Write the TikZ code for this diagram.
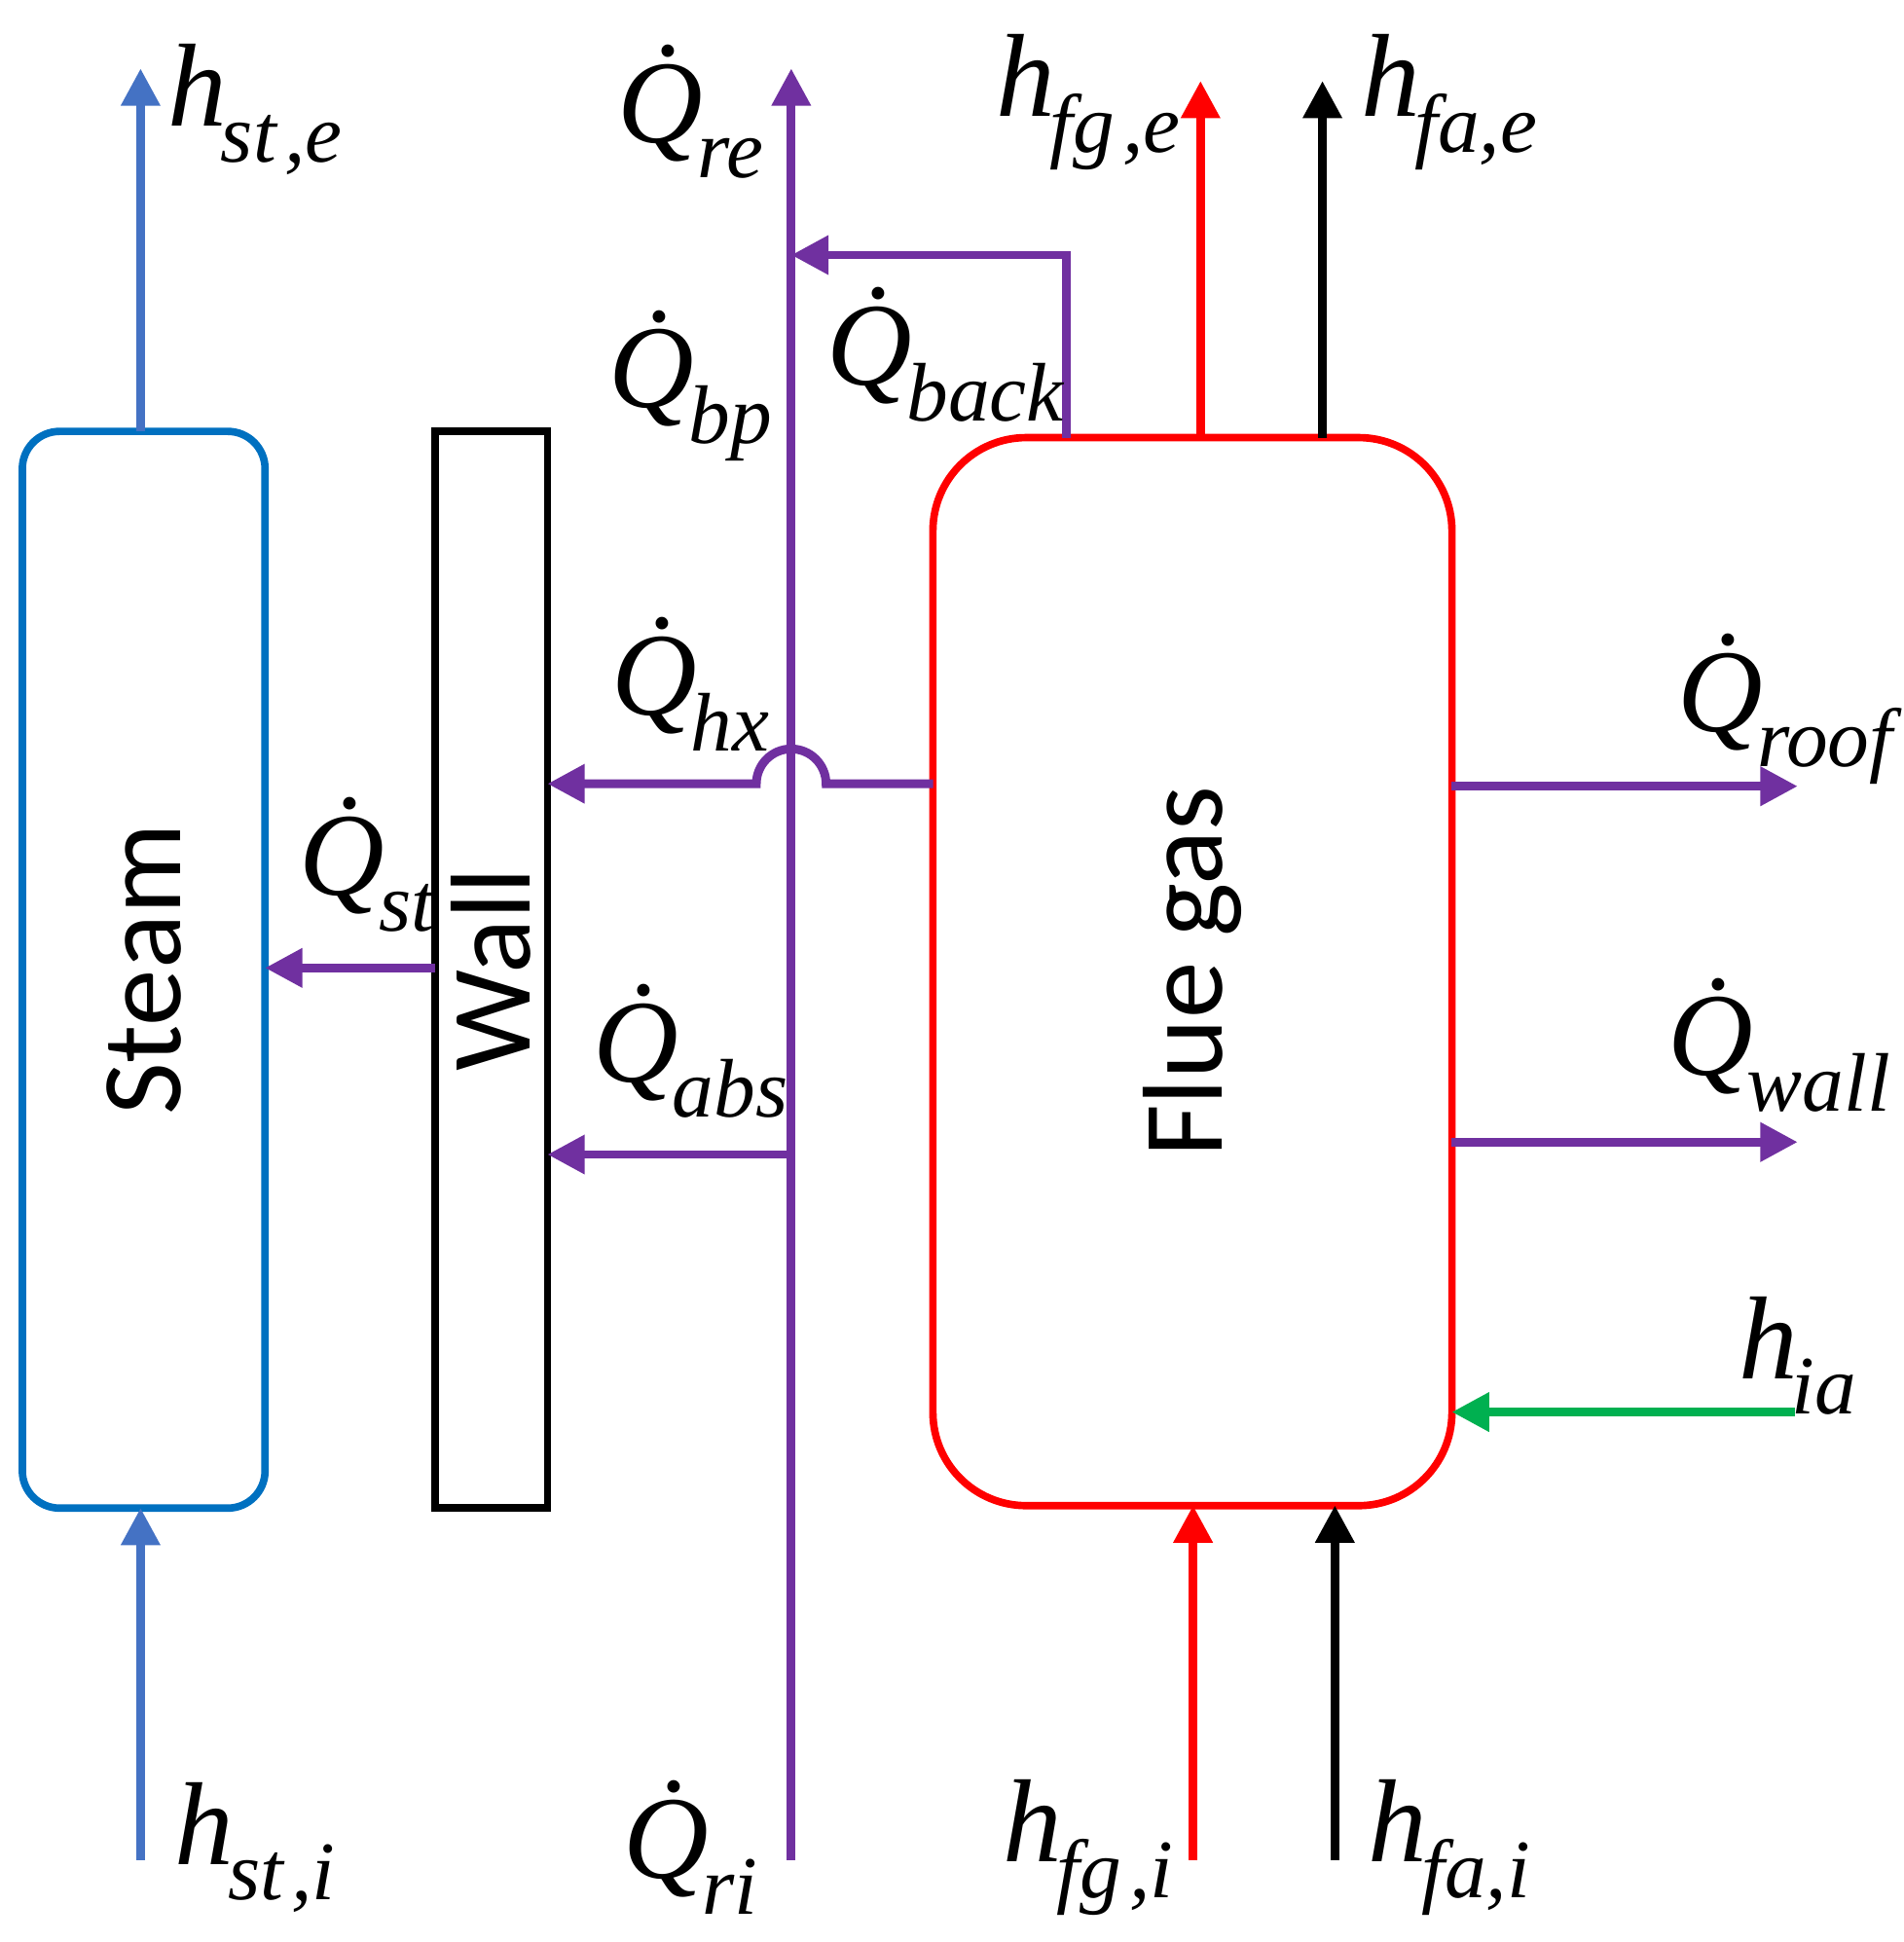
\documentclass[tikz,border=0pt]{standalone}
\usepackage{fontspec}
\setmainfont{Carlito}
\newfontfamily\tms{Liberation Serif}
\usetikzlibrary{arrows.meta}
\definecolor{stblue}{RGB}{0,112,192}
\definecolor{arblue}{RGB}{68,114,196}
\definecolor{pur}{RGB}{112,48,160}
\definecolor{grn}{RGB}{0,176,80}
\newcommand{\lab}[2]{{\tms\itshape #1\kern-0.05em\raisebox{-0.3em}{\fontsize{19}{19}\selectfont #2}}}
\begin{document}
\begin{tikzpicture}[x=0.01cm,y=-0.01cm,
  ln/.style={line width=0.07cm},
  ar/.style={ln,-{Triangle[length=0.3cm,width=0.3cm]}},
  box/.style={line width=0.06cm,draw},
  bt/.style={font=\fontsize{26}{26}\selectfont,rotate=90},
  lb/.style={font=\fontsize{27}{27}\selectfont,inner sep=0pt}]
\useasboundingbox (0,0) rectangle (1530,1561);
\node[box,draw=stblue,rounded corners=0.3cm,minimum width=1.95cm,minimum height=8.65cm] (steam) at (115.5,779.5) {};
\node[bt] at (steam) {Steam};
\node[box,draw=black,minimum width=0.9cm,minimum height=8.65cm] (wall) at (395,779.5) {};
\node[bt] at (wall) {Wall};
\node[box,draw=red,rounded corners=0.75cm,minimum width=4.17cm,minimum height=8.58cm] (fg) at (958.5,781) {};
\node[bt] at (fg) {Flue gas};
\coordinate (sti) at (113,1495); \coordinate (ste) at (113,55);
\draw[ar,arblue] (sti) -- (113,1212);
\draw[ar,arblue] (113,347) -- (ste);
\coordinate (ri) at (636,1495); \coordinate (re) at (636,55);
\draw[ar,pur] (ri) -- (re);
\draw[ar,pur] (857,352) -- (857,205) -- (636,205);
\draw[ar,pur] (750,630) -- (664,630) arc[start angle=0,end angle=180,radius=0.28cm] -- (440,630);
\draw[ar,pur] (636,928) -- (440,928);
\draw[ar,pur] (350,778) -- (213,778);
\draw[ar,red] (965,352) -- (965,65);
\draw[ar,black] (1063,352) -- (1063,65);
\draw[ar,pur] (1167,632) -- (1445,632);
\draw[ar,pur] (1167,918) -- (1445,918);
\draw[ar,grn] (1443,1135) -- (1167,1135);
\draw[ar,red] (959,1495) -- (959,1210);
\draw[ar,black] (1073,1495) -- (1073,1210);
\node[lb] (l1) at (205,88) {\lab{h}{st\kern0.1em,e}};
\node[lb] (l2) at (555,90) {\lab{\.Q}{re}};
\node[lb] (l3) at (555,310) {\lab{\.Q}{bp}};
\node[lb] (l4) at (760,285) {\lab{\.Q}{back}};
\node[lb] (l5) at (875,82) {\lab{h}{fg\kern0.1em,e}};
\node[lb] (l6) at (1165,82) {\lab{h}{fa,e}};
\node[lb] (l7) at (555,550) {\lab{\.Q}{hx}};
\node[lb] (l8) at (295,695) {\lab{\.Q}{st}};
\node[lb] (l9) at (555,845) {\lab{\.Q}{abs}};
\node[lb,anchor=east] (l10) at (1522,570) {\lab{\.Q}{roof}};
\node[lb,anchor=east] (l11) at (1520,840) {\lab{\.Q}{wall}};
\node[lb] (l12) at (1445,1090) {\lab{h}{ia}};
\node[lb] (l13) at (205,1485) {\lab{h}{st\kern0.1em,i}};
\node[lb] (l14) at (555,1485) {\lab{\.Q}{ri}};
\node[lb] (l15) at (875,1485) {\lab{h}{fg\kern0.1em,i}};
\node[lb] (l16) at (1165,1485) {\lab{h}{fa,i}};
\end{tikzpicture}
\end{document}
